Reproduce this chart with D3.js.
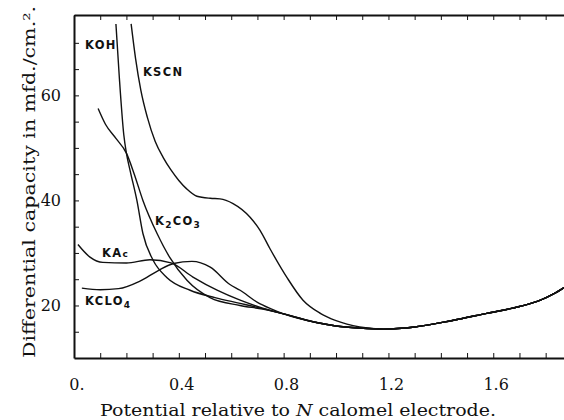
<!DOCTYPE html>
<html>
<head>
<meta charset="utf-8">
<script src="https://cdn.jsdelivr.net/npm/d3@7"></script>
<style>
  body { margin: 0; background: #fff; }
  svg { display: block; }
  .axis path, .axis line { stroke: #111; }
  .curve { fill: none; stroke: #111; stroke-width: 1.4; }
  .num { font-family: "DejaVu Serif", serif; font-size: 16px; fill: #111; }
  .lab { font-family: "DejaVu Sans", sans-serif; font-size: 11.5px; font-weight: bold; fill: #111; letter-spacing: 1.3px; }
</style>
</head>
<body>
<div id="chart"></div>
<script>
// readings: [potential (V), capacity (mfd./cm.2)]
var koh = [[0.160,73.6],[0.173,63.4],[0.190,52.5],[0.200,49.0],[0.215,45.5],[0.240,40.0],
           [0.263,33.7],[0.302,28.6],[0.355,25.3],[0.443,22.9],[0.538,21.5],[0.634,20.4],[0.72,19.4]];
var k2co3 = [[0.092,57.5],[0.120,54.5],[0.160,51.8],[0.200,49.0],[0.230,45.0],[0.263,40.0],
             [0.317,33.7],[0.366,29.1],[0.431,24.8],[0.519,21.5],[0.634,20.0],[0.72,19.3]];
var kscn = [[0.218,73.6],[0.235,67.0],[0.255,61.0],[0.280,55.8],[0.310,51.2],[0.340,48.2],
            [0.370,45.8],[0.400,43.8],[0.430,42.2],[0.469,40.8],[0.520,40.4],[0.557,40.3],
            [0.607,39.4],[0.672,36.8],[0.710,34.3],[0.748,30.8],[0.813,25.3],[0.874,21.0],
            [0.940,18.5],[1.0,17.1],[1.09,15.9]];
var kac = [[0.015,31.6],[0.061,29.2],[0.110,28.2],[0.200,28.1],[0.290,28.7],[0.370,28.1],
           [0.454,25.4],[0.546,22.9],[0.634,21.0],[0.72,19.5]];
var kclo4 = [[0.03,23.3],[0.10,23.0],[0.17,23.2],[0.25,24.6],[0.32,26.6],[0.38,28.0],
             [0.45,28.4],[0.52,27.3],[0.595,24.0],[0.634,22.9],[0.70,20.6],[0.75,19.4]];
// common branch all curves run into
var tail = [[0.8,18.4],[0.93,16.7],[1.0,16.1],[1.09,15.7],[1.18,15.5],[1.3,15.9],[1.44,17.1],
            [1.575,18.5],[1.70,19.8],[1.78,21.0],[1.83,22.2],[1.87,23.4]];

var xTicks = [0,0.1,0.2,0.3,0.4,0.5,0.6,0.7,0.8,0.9,1.0,1.1,1.2,1.3,1.4,1.5,1.6,1.7,1.8];
var xLabels = {"0": "0.", "0.4": "0.4", "0.8": "0.8", "1.2": "1.2", "1.6": "1.6"};
var yTicks = [15,20,25,30,35,40,45,50,55,60,65,70];
var yLabels = {"20": "20", "40": "40", "60": "60"};

// curve names, placed at [potential, capacity]
var names = [
  {text: "KOH", at: [0.042, 68.8]},
  {text: "KSCN", at: [0.263, 63.6]},
  {text: "K", sub: "2", rest: "CO", sub2: "3", at: [0.309, 35.4]},
  {text: "KA", small: "c", at: [0.107, 29.3]},
  {text: "KCLO", sub: "4", at: [0.042, 20.0]}
];

var width = 564, height = 420;
var margin = {top: 15, right: 0, bottom: 62, left: 74};

var svg = d3.select("#chart").append("svg")
    .attr("width", width)
    .attr("height", height);

var x = d3.scaleLinear().domain([0, 1.87]).range([margin.left, width - margin.right]);
var y = d3.scaleLinear().domain([10, 75.3]).range([height - margin.bottom, margin.top]);

svg.append("defs").append("clipPath").attr("id", "plot")
  .append("rect")
    .attr("x", margin.left).attr("y", margin.top)
    .attr("width", width - margin.left).attr("height", height - margin.bottom - margin.top);

// axes, ticks pointing inward
svg.append("g")
    .attr("class", "axis")
    .attr("transform", "translate(0," + (height - margin.bottom) + ")")
    .call(d3.axisBottom(x).tickValues(xTicks).tickSize(-5).tickSizeOuter(0).tickPadding(21)
      .tickFormat(function(d) { return xLabels[+d.toFixed(1)] || ""; }))
    .call(function(g) {
      g.select(".domain").attr("stroke-width", 2);
      g.selectAll("text").attr("class", "num").attr("dx", "0.15em");
    });

svg.append("g")
    .attr("class", "axis")
    .attr("transform", "translate(0," + margin.top + ")")
    .call(d3.axisTop(x).tickValues(xTicks).tickSize(-5).tickSizeOuter(0).tickFormat(""))
    .call(function(g) { g.select(".domain").attr("stroke-width", 2); });

svg.append("g")
    .attr("class", "axis")
    .attr("transform", "translate(" + margin.left + ",0)")
    .call(d3.axisLeft(y).tickValues(yTicks).tickSize(-5).tickSizeOuter(0).tickPadding(13)
      .tickFormat(function(d) { return yLabels[d] || ""; }))
    .call(function(g) {
      g.select(".domain").attr("stroke-width", 2);
      g.selectAll("text").attr("class", "num");
    });

// curves
var line = d3.line()
    .x(function(d) { return x(d[0]); })
    .y(function(d) { return y(d[1]); })
    .curve(d3.curveMonotoneX);

var series = [
  koh.concat(tail),
  k2co3.concat(tail),
  kscn.concat(tail.filter(function(d) { return d[0] > 1.09; })),
  kac.concat(tail),
  kclo4.concat(tail)
];

svg.append("g")
    .attr("clip-path", "url(#plot)")
  .selectAll("path")
  .data(series)
  .enter().append("path")
    .attr("class", "curve")
    .attr("d", line);

// curve names
var lab = svg.append("g").selectAll("text")
  .data(names)
  .enter().append("text")
    .attr("class", "lab")
    .attr("x", function(d) { return x(d.at[0]); })
    .attr("y", function(d) { return y(d.at[1]); });

lab.each(function(d) {
  var t = d3.select(this);
  t.append("tspan").text(d.text);
  if (d.small) t.append("tspan").attr("font-size", "9px").text(d.small);
  if (d.sub) t.append("tspan").attr("font-size", "9px").attr("dy", 3).text(d.sub);
  if (d.rest) t.append("tspan").attr("dy", -3).text(d.rest);
  if (d.sub2) t.append("tspan").attr("font-size", "9px").attr("dy", 3).text(d.sub2);
});

// axis titles
svg.append("text")
    .attr("class", "num")
    .attr("x", 298).attr("y", 416)
    .attr("text-anchor", "middle")
    .attr("textLength", 396).attr("lengthAdjust", "spacingAndGlyphs")
    .html('Potential relative to <tspan font-style="italic">N</tspan> calomel electrode.');

svg.append("text")
    .attr("class", "num")
    .attr("font-size", "17px")
    .attr("transform", "translate(35,182) rotate(-90)")
    .attr("text-anchor", "middle")
    .attr("textLength", 352).attr("lengthAdjust", "spacingAndGlyphs")
    .text("Differential capacity in mfd./cm.\u00b2.");
</script>
</body>
</html>
